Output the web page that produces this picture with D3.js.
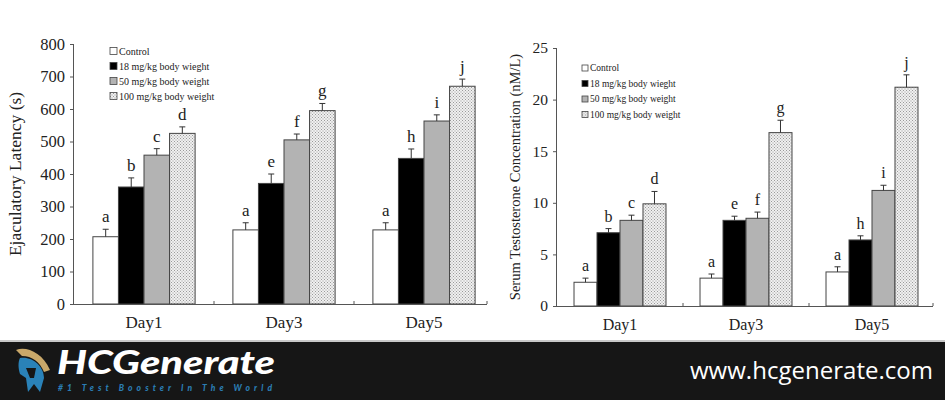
<!DOCTYPE html>
<html><head><meta charset="utf-8">
<script src="https://cdn.jsdelivr.net/npm/d3@7"></script>
<style>body{margin:0;background:#fff}svg{display:block}</style>
</head><body>
<svg id="c" width="945" height="400"></svg>
<script>
// ---------- data ----------
const days = ["Day1", "Day3", "Day5"];
const groups = ["Control", "18 mg/kg body wieght", "50 mg/kg body weight", "100 mg/kg body weight"];
const sigLetters = [["a","b","c","d"],["a","e","f","g"],["a","h","i","j"]];

const latControl = [207, 228, 228];
const lat18 = [360, 371, 448];
const lat50 = [458, 505, 563];
const lat100 = [525, 595, 670];
const latControlErr = [23, 22, 22];
const lat18Err = [28, 29, 29];
const lat50Err = [20, 18, 19];
const lat100Err = [20, 22, 22];
const latTicks = [0,100,200,300,400,500,600,700,800];

const tesControl = [2.3, 2.7, 3.3];
const tes18 = [7.1, 8.3, 6.4];
const tes50 = [8.3, 8.5, 11.2];
const tes100 = [9.9, 16.8, 21.2];
const tesControlErr = [0.4, 0.4, 0.5];
const tes18Err = [0.4, 0.4, 0.4];
const tes50Err = [0.5, 0.6, 0.5];
const tes100Err = [1.2, 1.2, 1.2];
const tesTicks = [0,5,10,15,20,25];

const svg = d3.select("#c");
const defs = svg.append("defs");
const pat = defs.append("pattern").attr("id","dots").attr("width",3).attr("height",3).attr("patternUnits","userSpaceOnUse");
pat.append("rect").attr("width",3).attr("height",3).attr("fill","#f0f0f0");
pat.append("rect").attr("x",0).attr("y",0).attr("width",1).attr("height",1).attr("fill","#9a9a9a");
pat.append("rect").attr("x",1.5).attr("y",1.5).attr("width",1).attr("height",1).attr("fill","#9a9a9a");

const fills = ["#ffffff", "#000000", "#b3b3b3", "url(#dots)"];
const serif = "'Liberation Serif','Times New Roman',serif";

function chart(cfg){
  const g = svg.append("g");
  const x0 = d3.scaleBand().domain(days).range(cfg.xr).paddingInner(0.27).paddingOuter(0.135);
  const x1 = d3.scaleBand().domain(groups).range([0, x0.bandwidth()]);
  const y = d3.scaleLinear().domain([0, cfg.max]).range(cfg.yr);
  const series = cfg.series;
  const ya = g.append("g").attr("transform",`translate(${cfg.xr[0]},0)`)
    .call(d3.axisLeft(y).tickValues(cfg.ticks).tickSize(4).tickPadding(5));
  ya.select(".domain").attr("d",`M-0.5,${cfg.yr[1]}V${cfg.yr[0]}`).attr("stroke","#555");
  ya.selectAll(".tick line").attr("stroke","#555");
  ya.selectAll("text").attr("font-family",serif).attr("font-size",cfg.tickFs).attr("fill","#222");
  days.forEach((d,di)=>{
    groups.forEach((s,si)=>{
      const v = series[si].v[di], e = series[si].e[di];
      const bx = x0(d)+x1(s), bw = x1.bandwidth();
      g.append("rect").attr("x",bx).attr("y",y(v)).attr("width",bw).attr("height",y(0)-y(v))
        .attr("fill",fills[si]).attr("stroke","#444").attr("stroke-width",1);
      const cx = bx + bw/2;
      g.append("line").attr("x1",cx).attr("x2",cx).attr("y1",y(v)).attr("y2",y(v+e)).attr("stroke","#333");
      g.append("line").attr("x1",cx-3).attr("x2",cx+3).attr("y1",y(v+e)).attr("y2",y(v+e)).attr("stroke","#333");
      g.append("text").attr("x",cx).attr("y",y(v+e)-7).attr("text-anchor","middle")
        .attr("font-family",serif).attr("font-size",cfg.letFs).attr("fill","#222").text(sigLetters[di][si]);
    });
  });
  const xa = g.append("g").attr("transform",`translate(0,${cfg.yr[0]})`);
  xa.append("line").attr("x1",cfg.xr[0]).attr("x2",cfg.xEnd).attr("y1",0.5).attr("y2",0.5).attr("stroke","#555");
  days.forEach((d,i)=>{
    if(i>0){ const bx = x0(d) - x0.step()*0.135; xa.append("line").attr("x1",bx).attr("x2",bx).attr("y1",0).attr("y2",-3).attr("stroke","#555"); }
    xa.append("text").attr("x",x0(d)+x0.bandwidth()/2).attr("y",24).attr("text-anchor","middle")
      .attr("font-family",serif).attr("font-size",cfg.dayFs).attr("fill","#222").text(d);
  });
  xa.append("line").attr("x1",cfg.xEnd).attr("x2",cfg.xEnd).attr("y1",0).attr("y2",-3).attr("stroke","#555");
  g.append("text").attr("transform",`translate(${cfg.titleX},${(cfg.yr[0]+cfg.yr[1])/2}) rotate(-90)`)
    .attr("text-anchor","middle").attr("dominant-baseline","middle").attr("font-family",serif).attr("font-size",cfg.titleFs)
    .attr("fill","#222").text(cfg.title);
  const lg = g.append("g").attr("transform",`translate(${cfg.leg[0]},${cfg.leg[1]})`);
  groups.forEach((s,i)=>{
    const r = lg.append("g").attr("transform",`translate(0,${i*cfg.legStep})`);
    r.append("rect").attr("x",0).attr("y",-cfg.sq/2).attr("width",cfg.sq).attr("height",cfg.sq)
      .attr("fill",fills[i]).attr("stroke","#444").attr("stroke-width",0.8);
    r.append("text").attr("x",cfg.sq+2).attr("y",0).attr("dominant-baseline","central")
      .attr("font-family",serif).attr("font-size",cfg.legFs).attr("fill","#222").text(s);
  });
}

chart({xr:[74,494], xEnd:487, yr:[304,44], max:800, ticks:latTicks,
  series:[{v:latControl,e:latControlErr},{v:lat18,e:lat18Err},{v:lat50,e:lat50Err},{v:lat100,e:lat100Err}],
  tickFs:16.5, letFs:17, dayFs:17, titleFs:17.5, titleX:17, title:"Ejaculatory Latency (s)",
  leg:[110,51], legStep:15, sq:7, legFs:10});

chart({xr:[557,935], xEnd:933, yr:[306,48], max:25, ticks:tesTicks,
  series:[{v:tesControl,e:tesControlErr},{v:tes18,e:tes18Err},{v:tes50,e:tes50Err},{v:tes100,e:tes100Err}],
  tickFs:15.5, letFs:16, dayFs:16, titleFs:14.5, titleX:517, title:"Serum Testosterone Concentration (nM/L)",
  leg:[582,68], legStep:15.5, sq:6, legFs:9.5});

// ---------- banner ----------
const b = svg.append("g");
b.append("rect").attr("x",0).attr("y",340).attr("width",945).attr("height",2).attr("fill","#c8c8c8");
b.append("rect").attr("x",0).attr("y",342).attr("width",945).attr("height",58).attr("fill","#161616");
const h = b.append("g").attr("transform","translate(12,348)");
h.append("path").attr("d","M4,2 C14,-2 30,4 38,22 L32,24 C28,14 20,8 10,8 Z").attr("fill","#c9a86a");
h.append("path").attr("d","M8,10 C20,8 32,18 32,30 L28,44 L22,36 L16,44 L14,30 L8,26 C6,20 6,14 8,10 Z").attr("fill","#2a82b8");
h.append("path").attr("d","M14,20 L24,20 L22,30 L18,30 Z").attr("fill","#161616");
b.append("text").attr("x",57).attr("y",374).attr("font-family","Lato,'Open Sans',sans-serif").attr("font-weight",900)
  .attr("font-style","italic").attr("font-size",33).attr("fill","#ffffff").attr("textLength",218)
  .attr("lengthAdjust","spacingAndGlyphs").text("HCGenerate");
b.append("text").attr("x",58).attr("y",391).attr("font-family","Lato,'Open Sans',sans-serif").attr("font-weight",900)
  .attr("font-style","italic").attr("font-size",8.5).attr("fill","#2b7db3").attr("textLength",214)
  .attr("lengthAdjust","spacing").text("#1 Test Booster In The World");
b.append("text").attr("x",690).attr("y",379).attr("font-family","'Open Sans',Lato,sans-serif").attr("font-weight",500)
  .attr("font-size",23).attr("fill","#ffffff").attr("textLength",243)
  .attr("lengthAdjust","spacingAndGlyphs").text("www.hcgenerate.com");
</script>
</body></html>
